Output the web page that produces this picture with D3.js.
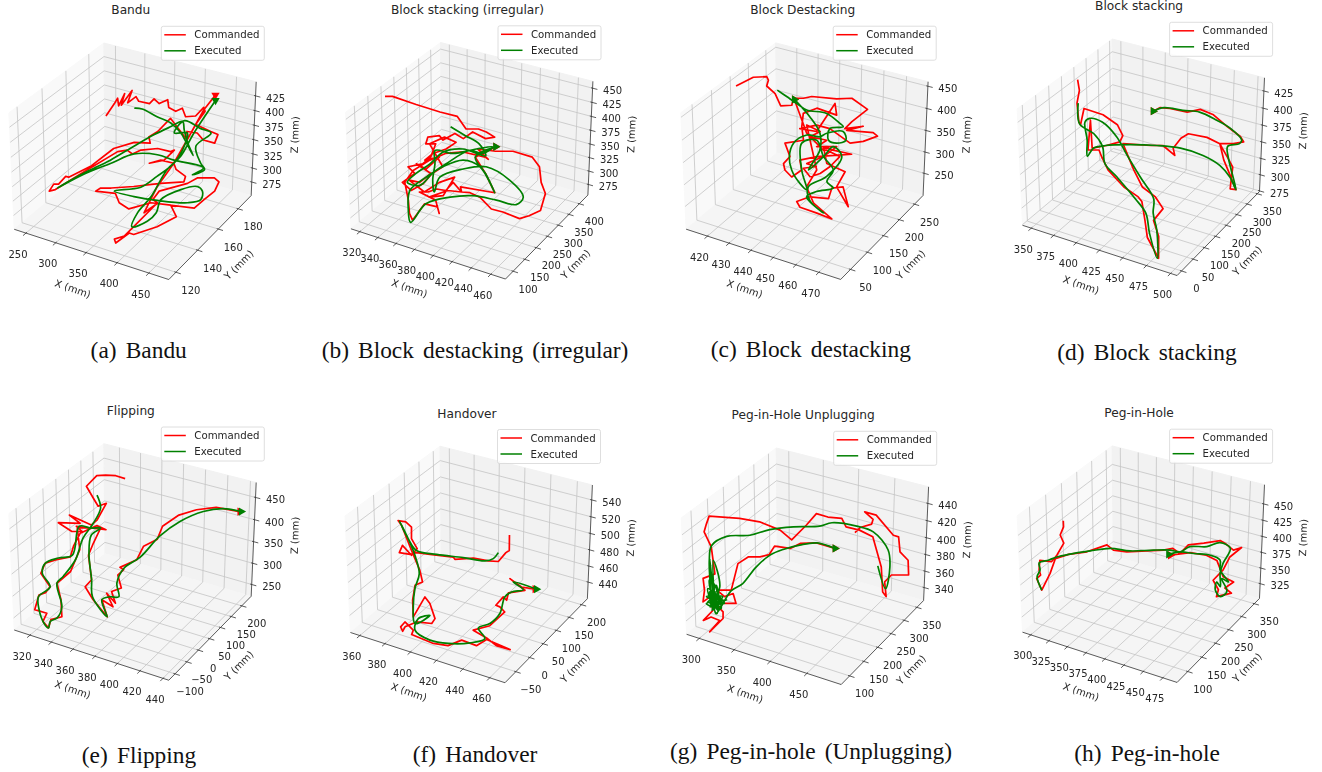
<!DOCTYPE html>
<html lang="en">
<head>
    <meta charset="UTF-8">
    <title>commanded vs executed trajectories</title>
    <script src="https://d3js.org/d3.v7.min.js"></script>
    <style>
        body { margin: 0; background: #fff; }
        svg { display: block; }
    </style>
</head>
<body>
<svg class="traj"></svg>

<script>
    const titles = ["Bandu", "Block stacking (irregular)", "Block Destacking", "Block stacking",
        "Flipping", "Handover", "Peg-in-Hole Unplugging", "Peg-in-Hole"];
    const captions = ["(a) Bandu", "(b) Block destacking (irregular)", "(c) Block destacking", "(d) Block stacking",
        "(e) Flipping", "(f) Handover", "(g) Peg-in-hole (Unplugging)", "(h) Peg-in-hole"];
    const seriesNames = ["Commanded", "Executed"];

    // axis limits
    const xDomains = [[230, 481], [310, 475], [410, 479.4], [340, 506.7], [305, 445], [352.4, 471.2], [281.6, 495.6], [288.5, 493]];
    const yDomains = [[113.6, 193.6], [68, 442], [21.6, 279], [-19, 361], [-126, 246], [-88, 224], [71, 377], [63, 371]];
    const zDomains = [[250.6, 448.6], [255, 462], [197, 460], [274, 444], [222, 483], [419, 557.5], [324, 459], [301, 479]];

    const xTicks = [[250, 300, 350, 400, 450], [320, 340, 360, 380, 400, 420, 440, 460], [420, 430, 440, 450, 460, 470],
        [350, 375, 400, 425, 450, 475, 500], [320, 340, 360, 380, 400, 420, 440], [360, 380, 400, 420, 440, 460],
        [300, 350, 400, 450], [300, 325, 350, 375, 400, 425, 450, 475]];
    const yTicks = [[120, 140, 160, 180], [100, 150, 200, 250, 300, 350, 400], [50, 100, 150, 200, 250],
        [0, 50, 100, 150, 200, 250, 300, 350], [-100, -50, 0, 50, 100, 150, 200], [-50, 0, 50, 100, 150, 200],
        [100, 150, 200, 250, 300, 350], [100, 150, 200, 250, 300, 350]];
    const zTicks = [[275, 300, 325, 350, 375, 400, 425], [275, 300, 325, 350, 375, 400, 425, 450], [250, 300, 350, 400, 450],
        [275, 300, 325, 350, 375, 400, 425], [250, 300, 350, 400, 450], [440, 460, 480, 500, 520, 540],
        [340, 360, 380, 400, 420, 440], [325, 350, 375, 400, 425, 450]];

    // one view gives no depth, so the paths keep X and Z only (Y goes on the plane facing the camera)
    const banduCmdX = [306, 312, 314, 318, 321, 321, 329, 328, 336, 341, 355, 359, 367, 376, 380, 390, 397, 404, 416, 423, 426, 419, 426, 440, 450, 449, 434, 424, 411, 414, 386, 375, 366, 370, 350, 327, 305, 282, 278, 272, 266, 263, 270, 299, 333, 344, 352, 361, 381, 398, 402, 393, 376, 389, 406, 411, 425, 425, 397, 365, 338, 325, 320, 345, 353, 367, 392, 417, 428, 408, 382, 376, 363, 360, 371, 400, 393, 398, 430, 440, 461, 468, 466, 456, 447, 400, 387, 394, 406, 414, 424, 433];
    const banduCmdZ = [401, 417, 424, 414, 430, 415, 434, 418, 426, 420, 417, 423, 417, 422, 412, 407, 411, 400, 401, 412, 407, 390, 387, 381, 377, 366, 370, 379, 381, 370, 398, 381, 374, 366, 367, 359, 336, 322, 323, 313, 313, 304, 306, 329, 355, 357, 352, 357, 359, 355, 357, 344, 340, 344, 340, 332, 323, 316, 314, 310, 308, 308, 304, 301, 289, 281, 289, 286, 271, 258, 248, 250, 237, 242, 246, 289, 293, 304, 314, 321, 321, 316, 304, 293, 282, 288, 276, 310, 340, 370, 409, 428];
    const banduExeX = [338, 348, 369, 388, 404, 413, 427, 416, 407, 402, 389, 372, 351, 327, 299, 272, 300, 329, 354, 383, 405, 444, 433, 446, 439, 427, 441, 426, 404, 396, 412, 412, 406, 390, 374, 343, 369, 399, 437, 452, 451, 443, 424, 403, 402, 394, 377, 379, 390, 400, 412, 420, 435];
    const banduExeZ = [411, 410, 400, 392, 379, 368, 350, 366, 383, 394, 387, 377, 362, 344, 327, 308, 326, 340, 352, 351, 344, 334, 325, 332, 340, 362, 379, 385, 395, 379, 379, 357, 340, 323, 309, 304, 297, 292, 289, 293, 304, 310, 306, 293, 276, 265, 258, 276, 297, 332, 349, 379, 421];

    const irregCmdX = [309, 315, 336, 357, 372, 382, 392, 399, 407, 400, 388, 382, 374, 366, 362, 353, 353, 361, 360, 355, 344, 351, 343, 352, 360, 365, 372, 356, 366.5, 377, 370.5, 361, 356, 367, 359, 350, 364, 357, 348, 363, 373, 384, 379, 368, 381.5, 393, 384, 380, 372, 366, 359, 374, 380, 377, 366, 360, 356, 352, 345, 349, 360, 371, 385, 404, 407, 396, 411, 425, 442, 450, 455, 461, 461, 453, 446, 431, 421, 409, 400, 393, 391, 420, 408, 396, 410];
    const irregCmdZ = [438, 438, 427, 417, 411, 394, 394, 390, 383, 381, 390, 381, 388, 379, 385, 383, 374, 374, 356, 347, 343, 334, 322, 311, 320, 334, 343, 374, 383, 376, 367, 361, 352, 356, 340, 347, 334, 322, 325, 309, 322, 329, 304, 302, 311, 309, 322, 311, 313, 309, 309, 298, 280, 289, 293, 271, 280, 298, 322, 338, 352, 361, 363, 356, 353, 367, 364, 364, 356, 343, 322, 307, 284, 277, 273, 282, 286, 302, 308, 309, 316, 308, 334, 356, 370];
    const irregExeX = [369, 383, 396, 404, 384, 369, 361, 352, 347, 358, 365, 374, 390, 401, 408, 395, 377, 362, 365, 367, 371, 372, 389, 407, 429, 444, 440, 423, 403, 385, 367, 359, 354, 351, 361, 372, 387, 402, 420, 408, 396, 410];
    const irregExeZ = [397, 385, 374, 358, 367, 363, 347, 334, 322, 318, 334, 347, 365, 361, 370, 367, 361, 365, 347, 325, 309, 329, 340, 343, 325, 302, 292, 298, 304, 302, 293, 268, 286, 311, 329, 343, 352, 343, 308, 334, 356, 370];

    const destackCmdX = [413.9, 418.9, 423.4, 424.3, 424.3, 427.9, 431, 434.7, 434.6, 438, 440.6, 449.3, 454.4, 460.8, 456.7, 455, 461, 455.8, 465, 466.8, 462.5, 458.2, 449.9, 445.1, 439.7, 445.7, 449.2, 450.9, 443.5, 439.4, 440.2, 442.1, 436.1, 439.1, 437.6, 438.7, 441.7, 444.4, 442.8, 448.2, 456.5, 459.8, 453.1, 449.5, 452.3, 459.3, 457.9, 463.8, 460.1, 456.4, 456.3, 449.8, 445.8, 447.5, 453.8, 459.4, 451.7, 447.7, 449.5, 441.7, 446.9, 444, 450, 447.2, 454, 450.5, 445.5, 449, 444.8, 447.9, 451, 453.7, 456, 451, 449.8, 442.5, 435];
    const destackCmdZ = [448, 463, 464, 458, 448, 435, 414, 415, 427, 427, 430, 426, 427, 408, 387, 375, 379, 372, 368, 362, 353, 350, 375, 381, 375, 370, 418, 398, 410, 401, 378, 355, 350, 327, 315, 304, 292, 304, 321, 327, 330, 331, 338, 344, 315, 301, 275, 241, 275, 273, 255, 258, 250, 240, 230, 220, 247, 275, 304, 381, 370, 361, 355, 344, 344, 327, 315, 310, 307, 292.5, 298, 310, 327, 338, 338, 367, 425];
    const destackExeX = [428.3, 432.1, 436.2, 440.2, 447.3, 452.8, 454.3, 449.9, 450.6, 453.7, 456.5, 454.7, 449.3, 447.3, 442.7, 439, 438.9, 441, 445.1, 448.1, 444.4, 441.8, 446.6, 450.5, 455.1, 454.1, 456.9, 451.6, 448.7, 456.1, 450.1, 448.3, 453.5, 456.7, 452.8, 450.5, 446.7, 448.6, 447, 442, 435];
    const destackExeZ = [441, 430, 418, 407, 401, 384, 378, 375, 355, 350, 355, 370, 367, 361, 364, 350, 327, 304, 281, 270, 304, 350, 355, 327, 304, 284, 273, 267, 258, 230, 252, 275, 293, 327, 344, 327, 304, 338, 367, 395, 425];

    const stackCmdX = [353, 357, 358, 364, 366, 365, 382, 396, 403, 402, 392, 381, 373, 378, 387, 391, 399, 416, 430, 434, 441, 447, 461, 456, 448, 453, 444, 431, 420, 405, 428, 438, 450, 447, 451, 456, 472, 484, 487, 494, 500, 503, 508, 491, 484, 495, 503, 499, 486, 472, 460, 450, 435, 427, 422];
    const stackCmdZ = [439, 427, 413, 392, 389, 407, 400, 389, 377, 370, 366, 363, 394, 361, 361, 353, 339, 320, 309, 304, 283, 264, 241, 265, 283, 296, 309, 320, 339, 368, 366, 366, 355, 363, 374, 379, 375, 368, 363, 352, 342, 318, 317, 350, 368, 368, 370, 376, 387, 400, 406, 403, 407, 408, 404];
    const stackExeX = [359, 365, 379, 389, 395, 408, 428, 440, 448, 460, 453, 446, 443, 427, 410, 398, 383, 372, 369, 375, 379, 382, 391, 411, 433, 453, 473, 489, 500, 508, 494, 491, 500, 501, 489, 476, 460, 446, 430, 422];
    const stackExeZ = [413, 390, 379, 365, 346, 331, 307, 291, 268, 241, 272, 291, 307, 331, 357, 376, 392, 396, 392, 372, 354, 363, 366, 367, 366, 363, 355, 344, 331, 317, 353, 365, 368, 372, 385, 394, 403, 405, 408, 404];

    const flipCmdX = [353, 346, 339, 333, 328, 335, 340, 345, 342, 339, 322, 331, 316, 327, 334, 329, 350, 343, 333, 331, 331, 322, 315, 314, 323, 321, 317, 317, 326, 325, 330, 330, 337, 333, 327, 334, 336, 330, 338, 346, 344, 343, 350, 347, 355, 368, 361, 370, 363, 371, 366, 372, 367, 370, 367, 377, 379, 387, 388, 397, 408, 421, 438];
    const flipCmdZ = [485, 490, 491, 490, 472, 452, 438, 443, 415, 406, 423, 409, 410, 395, 395, 404, 398, 405, 392, 370, 352, 347, 341, 324, 301, 291, 287, 262, 256, 242, 231, 245, 250, 279, 307, 327, 364, 401, 401, 401, 375, 355, 313, 301, 279, 250, 279, 267, 290, 273, 293, 299, 321, 330, 334, 347, 370, 382, 404, 423, 432, 436, 429];
    const flipExeX = [337, 342, 340, 336, 335, 330, 327, 335, 334, 330, 330, 326, 320, 317, 323, 315, 315, 323, 332, 331, 339, 346, 341, 343, 350, 354, 368, 361, 366, 372, 368, 370, 379, 388, 399, 413, 426, 439];
    const flipExeZ = [457, 435, 409, 384, 347, 319, 307, 267, 248, 242, 231, 239, 262, 284, 301, 324, 341, 350, 355, 404, 401, 401, 389, 358, 313, 284, 250, 279, 284, 284, 307, 333, 352, 387, 412, 429, 434, 429];

    const handCmdX = [430.1, 432.6, 431, 428.1, 422.2, 413.1, 402.5, 401.2, 387.2, 379.1, 375.6, 369.1, 369.7, 376.6, 378.8, 373.8, 371.9, 367.7, 363, 365.8, 375.8, 384, 387.5, 383.7, 384.8, 388, 391.4, 395.4, 400.9, 399.8, 390.7, 384.9, 384.2, 382.3, 384, 390.2, 390, 404.1, 413, 420, 429.5, 434.4, 449.7, 441, 434.1, 425, 433.9, 440.3, 436.6, 434, 436.9, 439.4, 439.2, 448.4, 437.7, 445.8, 454];
    const handCmdZ = [510, 496, 494, 486, 486.5, 489, 488, 490, 492.5, 494, 492.5, 494, 500.6, 491.6, 497.6, 506.7, 517, 521.7, 523, 518.7, 496, 478, 467.5, 464.5, 451, 436, 454, 448, 434.4, 430, 431.4, 427, 423, 427, 431.4, 424, 420, 412, 410, 415, 410, 415.5, 406.4, 410, 417, 424, 428, 440.4, 445, 446.5, 454, 451, 457.6, 460, 470.5, 463, 461];
    const handExeX = [426.6, 424.7, 420.2, 407, 391.1, 378.7, 371.9, 363.8, 370.4, 378.6, 384.2, 384.2, 386.3, 390.1, 397.4, 391.2, 391.2, 401.6, 412.8, 425.3, 433.2, 427.6, 433.6, 437.7, 437.8, 440.9, 447.3, 440.2, 454.9];
    const handExeZ = [494, 488.6, 486.5, 489.5, 492.5, 496, 506.7, 522.6, 509.7, 491.6, 475, 461.5, 445, 430, 437.4, 434.4, 424, 415, 412, 412.5, 416.4, 426, 430, 439, 454, 458.5, 460.6, 467.5, 461];

    const unplugCmdX = [430, 434, 445, 445, 434, 447, 471, 477, 483, 494, 499, 481, 476, 482, 477, 468, 450, 434, 419, 412, 397, 384, 377, 366, 351, 327, 305, 272.5, 272, 272, 284, 296, 285, 290, 292, 298, 305, 298, 305, 315, 308, 318, 316, 305, 327, 321, 313, 303, 318, 317, 326, 338, 347, 350, 367, 376, 393, 414];
    const unplugCmdZ = [416.4, 420.8, 423.8, 428, 434.6, 431.7, 414, 412.6, 399.4, 392, 379, 379, 373, 360, 364, 386, 412.6, 418.5, 421.4, 428.8, 430, 433, 423, 410, 418.5, 425.8, 428.8, 430.8, 423.8, 417, 403.8, 380, 376, 365.7, 355.4, 360, 348, 339, 342, 339, 329, 340.7, 346.6, 354, 354, 362.7, 360, 365.7, 365.7, 389, 395, 395, 397, 404.4, 402.4, 406.8, 407.3, 402.4];
    const unplugExeX = [464, 479, 477, 470, 449, 430, 403, 391, 364, 340, 321, 297, 284, 286, 295, 301, 286, 306, 290, 305, 301, 311, 294, 315, 293, 310, 304, 292, 305, 299, 313, 296, 316, 299, 301, 310, 296, 313, 304, 297.6, 310, 302, 306, 297, 311, 300, 308, 300, 308, 304, 304, 296, 312, 300, 309, 318, 328, 337, 348, 360, 376, 393, 414];
    const unplugExeZ = [387, 367, 386, 401, 417, 422, 425, 422, 421.4, 419, 414, 413, 405, 392, 369, 354, 393.5, 349.5, 392, 368.6, 351, 360, 360, 354, 367, 345, 365.7, 374.5, 352.5, 365.7, 349.5, 354, 357, 357, 370, 348, 364, 354, 357, 359.8, 354, 351, 361, 355, 357, 363, 351, 354, 358, 348, 364, 361, 351, 368.6, 345, 365, 371.5, 386, 396.5, 401.5, 405.3, 407.3, 402.4];

    const pegCmdX = [300, 302, 301, 307, 303.5, 300, 288, 290, 293, 290, 298.5, 302, 303, 315, 332.5, 341.5, 350.6, 358.6, 372.5, 392, 408.6, 417.5, 426, 432, 447, 462.6, 468, 478.6, 486, 477, 474, 467, 475, 475, 489, 481, 488, 476, 465, 453, 436, 417];
    const pegCmdZ = [434, 427, 417.5, 408, 394, 386.5, 388, 377, 371, 367, 353.6, 373, 390, 395, 398, 402, 406, 400, 398, 399, 400, 402, 396, 406, 408, 411, 408, 400, 403, 392, 377, 365, 354, 346, 350, 356, 363, 369, 388, 394, 397, 394];
    const pegExeX = [298.5, 290, 291, 288, 297, 304, 315, 335.5, 355, 375.5, 398.6, 415, 426, 434, 451, 463, 475, 472, 472, 476, 471, 472, 479, 484, 475, 483, 471, 468, 457, 440, 426, 415];
    const pegExeZ = [353.6, 369, 377, 385, 388.5, 392, 395, 399, 402, 399, 400, 400, 398, 404, 404, 408.6, 402, 384.6, 373, 357.5, 363, 353.6, 346, 352, 367, 363, 377, 388.5, 394, 396, 398, 395];

    const cmdX = [banduCmdX, irregCmdX, destackCmdX, stackCmdX, flipCmdX, handCmdX, unplugCmdX, pegCmdX];
    const cmdZ = [banduCmdZ, irregCmdZ, destackCmdZ, stackCmdZ, flipCmdZ, handCmdZ, unplugCmdZ, pegCmdZ];
    const exeX = [banduExeX, irregExeX, destackExeX, stackExeX, flipExeX, handExeX, unplugExeX, pegExeX];
    const exeZ = [banduExeZ, irregExeZ, destackExeZ, stackExeZ, flipExeZ, handExeZ, unplugExeZ, pegExeZ];

    // layout
    const width = 1322;
    const height = 772;
    const centerX = [134.8, 471.5, 806.7, 1143.1, 134.8, 471, 807.2, 1143.1];
    const centerY = [155.8, 155.3, 155.7, 151.8, 556.5, 559, 560.8, 558.7];
    const captionX = [138.7, 475, 810.8, 1147, 139, 475, 811, 1147];
    const captionY = [358, 358, 357, 360, 763, 762, 759, 761];
    const markerTurn = [180, 90, 90, 90, 90, 90, 90, 90];
    const viewScale = 155;
    const colors = ["#ff0000", "#008000"];
    const sans = "'DejaVu Sans', sans-serif";

    // matplotlib's default 3d camera, elev 30 azim -60 dist 10, box aspect 4:4:3
    const halfXY = 0.5714;
    const halfZ = 0.4285;
    const elev = 30 * Math.PI / 180;
    const azim = -60 * Math.PI / 180;
    const eye = [Math.cos(azim) * Math.cos(elev), Math.sin(azim) * Math.cos(elev), Math.sin(elev)];
    const right = [-Math.sin(azim), Math.cos(azim), 0];
    const up = [-Math.sin(elev) * Math.cos(azim), -Math.sin(elev) * Math.sin(azim), Math.cos(elev)];

    function dot(a, b) {
        return a[0] * b[0] + a[1] * b[1] + a[2] * b[2];
    }

    let svg = d3.select(".traj")
        .attr("width", width)
        .attr("height", height);

    let defs = svg.append("defs");
    defs.append("filter").attr("id", "soft")
        .attr("x", "-5%").attr("y", "-5%").attr("width", "110%").attr("height", "110%")
        .append("feGaussianBlur").attr("stdDeviation", 0.3);

    titles.forEach(function (t, i) {
        drawPanel(i);
    });

    function drawPanel(i) {
        let g = svg.append("g").attr("filter", "url(#soft)");

        let scaleX = d3.scaleLinear().domain(xDomains[i]).range([-halfXY, halfXY]);
        let scaleY = d3.scaleLinear().domain(yDomains[i]).range([-halfXY, halfXY]);
        let scaleZ = d3.scaleLinear().domain(zDomains[i]).range([-halfZ, halfZ]);
        let screenX = d3.scaleLinear().domain([0, 1]).range([centerX[i], centerX[i] + viewScale]);
        let screenY = d3.scaleLinear().domain([0, 1]).range([centerY[i], centerY[i] - viewScale]);

        function project(x, y, z) {
            let w = [scaleX(x), scaleY(y), scaleZ(z)];
            let f = 10 / (10 - dot(eye, w));
            return [screenX(dot(right, w) * f), screenY(dot(up, w) * f)];
        }

        // Y on the camera facing plane through the box centre
        function planeY(x, z) {
            let wy = (eye[0] * scaleX(x) + eye[2] * scaleZ(z)) / -eye[1];
            return scaleY.invert(wy);
        }

        let [x0, x1] = xDomains[i];
        let [y0, y1] = yDomains[i];
        let [z0, z1] = zDomains[i];
        let line = d3.line();
        let smooth = d3.line().curve(d3.curveCatmullRom.alpha(0.5));

        // panes
        let panes = [
            {fill: "#f9f9f9", pts: [[x0, y0, z0], [x0, y1, z0], [x0, y1, z1], [x0, y0, z1]]},
            {fill: "#f2f2f2", pts: [[x0, y1, z0], [x1, y1, z0], [x1, y1, z1], [x0, y1, z1]]},
            {fill: "#f5f5f5", pts: [[x0, y0, z0], [x1, y0, z0], [x1, y1, z0], [x0, y1, z0]]}
        ];
        g.selectAll("path.pane").data(panes).enter().append("path")
            .attr("class", "pane")
            .attr("d", d => line(d.pts.map(p => project(p[0], p[1], p[2]))) + "Z")
            .attr("fill", d => d.fill)
            .attr("stroke", d => d.fill);

        // grid
        let grid = [];
        xTicks[i].forEach(v => grid.push([[v, y0, z0], [v, y1, z0], [v, y1, z1]]));
        yTicks[i].forEach(v => grid.push([[x1, v, z0], [x0, v, z0], [x0, v, z1]]));
        zTicks[i].forEach(v => grid.push([[x0, y0, v], [x0, y1, v], [x1, y1, v]]));
        g.selectAll("path.grid").data(grid).enter().append("path")
            .attr("class", "grid")
            .attr("d", d => line(d.map(p => project(p[0], p[1], p[2]))))
            .attr("fill", "none")
            .attr("stroke", "#c4c4c4")
            .attr("stroke-width", 0.8);

        // axis lines
        let axes = [
            [[x0, y0, z0], [x1, y0, z0]],
            [[x1, y0, z0], [x1, y1, z0]],
            [[x1, y1, z0], [x1, y1, z1]]
        ];
        xTicks[i].forEach(v => axes.push([[v, y0 - 0.03 * (y1 - y0), z0], [v, y0 + 0.01 * (y1 - y0), z0]]));
        yTicks[i].forEach(v => axes.push([[x1 + 0.03 * (x1 - x0), v, z0], [x1 - 0.01 * (x1 - x0), v, z0]]));
        zTicks[i].forEach(v => axes.push([[x1 + 0.03 * (x1 - x0), y1, v], [x1 - 0.01 * (x1 - x0), y1, v]]));
        g.selectAll("path.axis").data(axes).enter().append("path")
            .attr("class", "axis")
            .attr("d", d => line(d.map(p => project(p[0], p[1], p[2]))))
            .attr("fill", "none")
            .attr("stroke", "#333")
            .attr("stroke-width", 0.8);

        // tick labels
        let labels = [];
        xTicks[i].forEach(v => {
            let p = project(v, y0, z0);
            labels.push({t: v, x: p[0] - 8, y: p[1] + 21});
        });
        yTicks[i].forEach(v => {
            let p = project(x1, v, z0);
            labels.push({t: v, x: p[0] + 15, y: p[1] + 18});
        });
        zTicks[i].forEach(v => {
            let p = project(x1, y1, v);
            labels.push({t: v, x: p[0] + 20, y: p[1] + 2.3});
        });
        g.selectAll("text.tick").data(labels).enter().append("text")
            .attr("class", "tick")
            .attr("x", d => d.x)
            .attr("y", d => d.y)
            .attr("text-anchor", "middle")
            .attr("dominant-baseline", "central")
            .style("font", "10px " + sans)
            .style("fill", "#262626")
            .text(d => String(d.t).replace("-", "\u2212"));

        // axis titles
        let names = [
            {t: "X (mm)", dx: -62, dy: 133, r: 19},
            {t: "Y (mm)", dx: 104, dy: 109, r: -45},
            {t: "Z (mm)", dx: 160, dy: -21, r: -88}
        ];
        g.selectAll("text.name").data(names).enter().append("text")
            .attr("class", "name")
            .attr("transform", d => "translate(" + (centerX[i] + d.dx) + "," + (centerY[i] + d.dy) + ") rotate(" + d.r + ")")
            .attr("text-anchor", "middle")
            .attr("dominant-baseline", "central")
            .style("font", "10px " + sans)
            .style("fill", "#262626")
            .text(d => d.t);

        // trajectories, commanded under executed; the executed one runs smooth
        let runs = [
            {xs: cmdX[i], zs: cmdZ[i], color: colors[0], gen: line},
            {xs: exeX[i], zs: exeZ[i], color: colors[1], gen: smooth}
        ];
        runs.forEach(function (run) {
            let pts = run.xs.map((x, k) => project(x, planeY(x, run.zs[k]), run.zs[k]));
            g.append("path")
                .attr("d", run.gen(pts))
                .attr("fill", "none")
                .attr("stroke", run.color)
                .attr("stroke-width", 1.7)
                .attr("stroke-linejoin", "round");
            let end = pts[pts.length - 1];
            g.append("path")
                .attr("d", d3.symbol().type(d3.symbolTriangle).size(30)())
                .attr("transform", "translate(" + end[0] + "," + end[1] + ") rotate(" + markerTurn[i] + ")")
                .attr("fill", run.color);
        });

        // legend
        let legend = g.append("g")
            .attr("transform", "translate(" + (centerX[i] + 26.5) + "," + (centerY[i] - 129.5) + ")");
        legend.append("rect")
            .attr("width", 103)
            .attr("height", 34)
            .attr("rx", 2)
            .attr("fill", "#fff")
            .attr("fill-opacity", 0.8)
            .attr("stroke", "#d6d6d6")
            .attr("stroke-width", 0.8);
        seriesNames.forEach(function (n, k) {
            legend.append("line")
                .attr("x1", 3).attr("x2", 24.5)
                .attr("y1", 8.5 + k * 16).attr("y2", 8.5 + k * 16)
                .attr("stroke", colors[k])
                .attr("stroke-width", 1.5);
            legend.append("text")
                .attr("x", 33)
                .attr("y", 8.5 + k * 16)
                .attr("dominant-baseline", "central")
                .style("font", "10.2px " + sans)
                .style("fill", "#262626")
                .text(n);
        });

        // panel title
        svg.append("text")
            .attr("x", centerX[i] - 4)
            .attr("y", centerY[i] - 145.5)
            .attr("text-anchor", "middle")
            .attr("dominant-baseline", "central")
            .style("font", "12.2px " + sans)
            .style("fill", "#262626")
            .text(titles[i]);

        // caption
        svg.append("text")
            .attr("x", captionX[i])
            .attr("y", captionY[i])
            .attr("text-anchor", "middle")
            .style("font", "23.4px 'Liberation Serif', serif")
            .style("word-spacing", "3.3px")
            .style("fill", "#111")
            .text(captions[i]);
    }
</script>
</body>
</html>
